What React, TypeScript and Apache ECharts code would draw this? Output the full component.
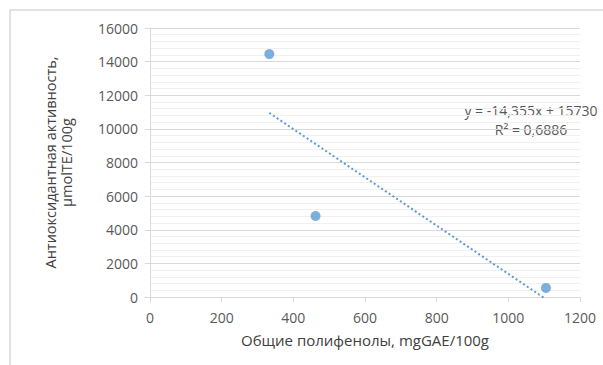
import React, { useEffect, useRef } from "react";
import * as echarts from "echarts";

const xValues = [333, 462, 1105];
const yValues = [14450, 4820, 540];
const trendSlope = -14.355;
const trendIntercept = 15730;
const trendLabel = "y = -14,355x + 15730";
const r2Label = "R² = 0,6886";
const xTitle = "Общие полифенолы, mgGAE/100g";
const yTitle = "Антиоксидантная активность,\nµmolTE/100g";

const FONT = "Open Sans";
const BLUE = "#5b9bd5";
const GRID = "#d9d9d9";
const TEXT = "#595959";

export default function App() {
  const ref = useRef<HTMLDivElement>(null);
  useEffect(() => {
    if (!ref.current) return;
    const chart = echarts.init(ref.current, undefined, { renderer: "svg" });
    const points = xValues.map((x, i) => [x, yValues[i]]);
    const xmin = Math.min(...xValues);
    const xmax = Math.max(...xValues);
    const trend = [xmin, xmax].map((x) => [x, trendSlope * x + trendIntercept]);
    const plain = (v: number) => String(v);
    chart.setOption({
      animation: false,
      backgroundColor: "#ffffff",
      textStyle: { fontFamily: FONT },
      grid: { left: 150, right: 23, top: 28, bottom: 68, containLabel: false },
      graphic: [
        {
          type: "rect",
          shape: { x: 10, y: 10, width: 700, height: 500 },
          style: { fill: "none", stroke: GRID, lineWidth: 1.5 },
          silent: true,
          z: -1,
        },
        {
          type: "text",
          x: 531,
          y: 110,
          style: {
            text: trendLabel,
            fill: TEXT,
            font: `14px "${FONT}"`,
            textAlign: "center",
            textVerticalAlign: "middle",
          },
        },
        {
          type: "text",
          x: 531,
          y: 129,
          style: {
            text: r2Label,
            fill: TEXT,
            font: `14px "${FONT}"`,
            textAlign: "center",
            textVerticalAlign: "middle",
          },
        },
      ],
      xAxis: {
        type: "value",
        min: 0,
        max: 1200,
        interval: 200,
        name: xTitle,
        nameLocation: "middle",
        nameGap: 35,
        nameTextStyle: { color: "#404040", fontSize: 15, fontFamily: FONT },
        axisLine: { show: true, lineStyle: { color: GRID } },
        axisTick: { show: true, length: 5, lineStyle: { color: GRID } },
        axisLabel: { color: TEXT, fontSize: 14, margin: 13, fontFamily: FONT, formatter: plain },
        splitLine: { show: false },
      },
      yAxis: {
        type: "value",
        min: 0,
        max: 16000,
        interval: 2000,
        name: yTitle,
        nameLocation: "middle",
        nameGap: 76,
        nameRotate: 90,
        nameTextStyle: { color: "#404040", fontSize: 14.5, lineHeight: 16, fontFamily: FONT },
        axisLine: { show: true, lineStyle: { color: GRID } },
        axisTick: { show: true, length: 5, lineStyle: { color: GRID } },
        axisLabel: { color: TEXT, fontSize: 14, margin: 12, fontFamily: FONT, formatter: plain },
        splitLine: { show: true, lineStyle: { color: GRID, width: 1 } },
        minorTick: { show: false, splitNumber: 5 },
        minorSplitLine: { show: true, lineStyle: { color: "#f0f0f0", width: 1 } },
      },
      series: [
        {
          type: "scatter",
          data: points,
          symbol: "circle",
          symbolSize: 10,
          itemStyle: { color: BLUE },
          z: 3,
        },
        {
          type: "line",
          data: trend,
          symbol: "none",
          clip: true,
          lineStyle: { color: BLUE, width: 2, type: [2, 2.5] },
          z: 2,
        },
      ],
    });
    return () => chart.dispose();
  }, []);
  return (
    <div
      ref={ref}
      style={{ position: "absolute", left: 0, top: 0, width: 603, height: 365 }}
    />
  );
}
